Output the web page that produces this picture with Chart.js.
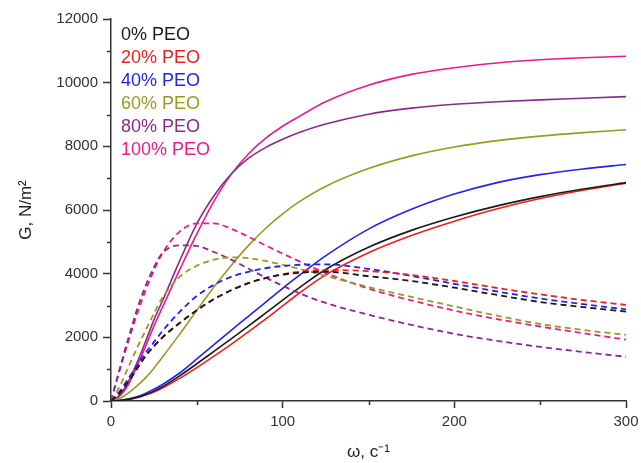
<!DOCTYPE html>
<html><head><meta charset="utf-8">
<script src="https://cdn.jsdelivr.net/npm/chart.js@4"></script>
<style>html,body{margin:0;padding:0;background:#fff}</style>
</head><body>
<canvas id="c" width="641" height="463"></canvas>
<script>
// ---- data ----
const omega = [0,5,10,15,20,25,30,40,50,60,70,80,90,100,110,125,150,175,200,225,250,275,300];
const seriesLabels = ['0% PEO','20% PEO','40% PEO','60% PEO','80% PEO','100% PEO'];
const seriesColors = ['#1a1a1a','#f01e1e','#2323f0','#999a22','#8a2a8e','#e81c8a'];

// storage modulus (solid lines)
const storage0   = [0,15,50,110,200,310,450,790,1170,1560,1950,2350,2760,3170,3570,4130,4830,5360,5780,6130,6420,6660,6860];
const storage20  = [0,12,45,100,185,285,410,710,1050,1410,1780,2170,2570,2990,3400,3960,4660,5200,5650,6040,6360,6620,6840];
const storage40  = [0,15,60,130,240,370,520,880,1320,1770,2220,2660,3100,3540,3960,4560,5400,6020,6500,6860,7110,7290,7430];
const storage60  = [0,80,250,470,720,1030,1380,2100,2850,3580,4260,4880,5420,5880,6270,6740,7300,7700,7980,8180,8320,8430,8520];
const storage80  = [0,180,600,1180,1850,2550,3150,4400,5570,6450,7130,7620,7960,8220,8440,8700,9010,9200,9320,9400,9460,9510,9560];
const storage100 = [0,150,500,1080,1700,2350,2950,4120,5250,6280,7120,7760,8250,8630,8950,9400,9920,10260,10470,10620,10720,10785,10830];

// loss modulus (dashed lines)
const loss0   = [0,250,600,1000,1400,1720,2000,2450,2850,3200,3480,3700,3860,3970,4030,4060,3920,3770,3560,3330,3110,2950,2810];
const loss20  = [0,250,600,1000,1400,1720,2000,2450,2850,3200,3480,3700,3860,3980,4060,4110,4080,3960,3770,3550,3350,3170,3020];
const loss40  = [0,300,700,1100,1500,1850,2200,2800,3300,3650,3900,4060,4170,4240,4280,4290,4150,3930,3680,3440,3220,3040,2880];
const loss60  = [0,450,1050,1650,2200,2750,3250,3900,4250,4440,4510,4490,4400,4280,4150,3930,3580,3270,2970,2680,2420,2230,2080];
const loss80  = [0,1000,1950,2850,3600,4200,4650,4890,4870,4680,4440,4160,3880,3620,3380,3080,2710,2390,2110,1890,1700,1540,1390];
const loss100 = [0,950,1850,2700,3450,4100,4650,5320,5580,5580,5410,5160,4890,4630,4380,4020,3530,3160,2840,2570,2340,2130,1930];

const yTicksMinor = [1000,3000,5000,7000,9000,11000];
const xTicksMinor = [50,150,250];

const storageAll = [storage0,storage20,storage40,storage60,storage80,storage100];
const lossAll = [loss0,loss20,loss40,loss60,loss80,loss100];

const toPts = arr => omega.map((w,k)=>({x:w,y:arr[k]}));
const datasets = [];
lossAll.forEach((arr,i)=>datasets.push({
  label: seriesLabels[i]+' loss', data: toPts(arr), borderColor: seriesColors[i],
  borderWidth: 1.8, borderDash:[6,4], pointRadius:0, fill:false, cubicInterpolationMode:'monotone'
}));
storageAll.forEach((arr,i)=>datasets.push({
  label: seriesLabels[i], data: toPts(arr), borderColor: seriesColors[i],
  borderWidth: 1.6, pointRadius:0, fill:false, cubicInterpolationMode:'monotone'
}));

const minorTicks = {
  id:'minorTicks',
  afterDraw(chart){
    const {ctx, scales:{x,y}} = chart;
    ctx.save(); ctx.strokeStyle='#333'; ctx.lineWidth=1.5; ctx.beginPath();
    yTicksMinor.forEach(v=>{const p=Math.round(y.getPixelForValue(v))+0.5; ctx.moveTo(x.left-4,p); ctx.lineTo(x.left,p);});
    xTicksMinor.forEach(v=>{const p=Math.round(x.getPixelForValue(v))+0.5; ctx.moveTo(p,y.bottom); ctx.lineTo(p,y.bottom+4);});
    ctx.stroke(); ctx.restore();
  }
};
const legendPlace = {
  id:'legendPlace',
  afterLayout(chart){
    const l = chart.legend; if(!l) return;
    l.top = chart.chartArea.top + 2; l.bottom = l.top + l.height;
    l.left = chart.chartArea.left - 4; l.right = l.left + l.width;
  }
};

Chart.defaults.font.family = "'Liberation Sans', Arial, sans-serif";
Chart.defaults.color = '#333';

new Chart(document.getElementById('c'), {
  type:'line',
  data:{datasets},
  options:{
    responsive:false, animation:false, devicePixelRatio:1,
    layout:{padding:{top:19,right:15,left:0,bottom:0}},
    plugins:{
      tooltip:{enabled:false},
      legend:{
        position:'chartArea', align:'start',
        labels:{
          boxWidth:0, boxHeight:0, padding:5,
          font:{size:18},
          generateLabels:()=>seriesLabels.map((t,i)=>({
            text:t, fontColor:seriesColors[i], fillStyle:'rgba(0,0,0,0)',
            strokeStyle:'rgba(0,0,0,0)', lineWidth:0, hidden:false, datasetIndex:6+i
          }))
        }
      }
    },
    scales:{
      x:{
        type:'linear', min:0, max:300,
        ticks:{stepSize:100, font:{size:15}, color:'#333', padding:5, callback:v=>String(v)},
        grid:{drawOnChartArea:false, drawTicks:true, tickLength:7, tickColor:'#333', tickWidth:1.5},
        border:{display:true, color:'#333', width:1.5},
        title:{display:true, text:'ω, c⁻¹', font:{size:17}, color:'#222', padding:{top:0,bottom:0}},
        afterFit:s=>{s.height=62; s.paddingLeft=0; s.paddingRight=0;}
      },
      y:{
        type:'linear', min:0, max:12000,
        ticks:{stepSize:2000, font:{size:15}, color:'#333', padding:5, callback:v=>String(v)},
        grid:{drawOnChartArea:false, drawTicks:true, tickLength:8, tickColor:'#333', tickWidth:1.5},
        border:{display:true, color:'#333', width:1.5},
        title:{display:true, text:'G, N/m²', font:{size:17}, color:'#222', padding:{top:16,bottom:0}},
        afterFit:s=>{s.width=111;}
      }
    }
  },
  plugins:[minorTicks, legendPlace]
});
</script>
</body></html>
